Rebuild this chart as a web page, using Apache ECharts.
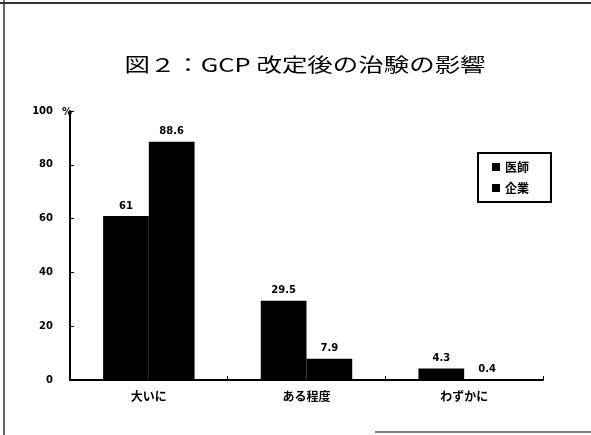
<!DOCTYPE html>
<html>
<head>
<meta charset="utf-8">
<script src="https://cdn.jsdelivr.net/npm/echarts@6/dist/echarts.min.js"></script>
<style>
  html, body { margin: 0; padding: 0; background: #fff; }
  #chart { width: 591px; height: 435px; }
</style>
</head>
<body>
<div id="chart"></div>
<script>
// Responses to the survey question, percent of respondents
const categories = ['大いに', 'ある程度', 'わずかに'];
const doctors = [61, 29.5, 4.3];      // 医師
const companies = [88.6, 7.9, 0.4];   // 企業
const seriesNames = ['医師', '企業'];
const yTicks = { min: 0, max: 100, interval: 20 };
const titleText = '図２：GCP 改定後の治験の影響';

const CJK = '"Noto Sans CJK JP", "Noto Sans", sans-serif';
const NUM = '"DejaVu Sans", sans-serif';

const chart = echarts.init(document.getElementById('chart'), null, { renderer: 'canvas' });

const labelStyle = {
  show: true,
  position: 'top',
  distance: 5,
  color: '#000',
  fontFamily: NUM,
  fontWeight: 'bold',
  fontSize: 10
};

chart.setOption({
  animation: false,
  backgroundColor: '#fff',
  legend: {
    orient: 'vertical',
    left: 478,
    top: 153,
    padding: [8, 22, 8, 14],
    itemGap: 9,
    itemWidth: 8,
    itemHeight: 8,
    icon: 'rect',
    borderColor: '#000',
    borderWidth: 2,
    textStyle: { fontFamily: CJK, fontWeight: 'bold', fontSize: 12, color: '#000' },
    data: seriesNames
  },
  grid: { left: 70, right: 48, top: 111, bottom: 55, containLabel: false },
  xAxis: {
    type: 'category',
    data: categories,
    axisLine: { lineStyle: { color: '#000', width: 2 } },
    axisTick: { show: true, inside: true, length: 4, lineStyle: { color: '#000', width: 1 } },
    axisLabel: { margin: 10, color: '#000', fontFamily: CJK, fontWeight: 'bold', fontSize: 12 }
  },
  yAxis: {
    type: 'value',
    min: yTicks.min,
    max: yTicks.max,
    interval: yTicks.interval,
    name: '%',
    nameLocation: 'end',
    nameGap: -6,
    nameTextStyle: { color: '#000', fontFamily: NUM, fontWeight: 'bold', fontSize: 10, padding: [0, 6, 0, 0] },
    splitLine: { show: false },
    axisLine: { show: true, lineStyle: { color: '#000', width: 2 } },
    axisTick: { show: true, inside: true, length: 4, lineStyle: { color: '#000', width: 1 } },
    axisLabel: { margin: 17, color: '#000', fontFamily: NUM, fontWeight: 'bold', fontSize: 10 }
  },
  series: [
    {
      name: seriesNames[0],
      type: 'bar',
      data: doctors,
      barGap: 0,
      barCategoryGap: '42%',
      itemStyle: { color: '#000' },
      label: labelStyle
    },
    {
      name: seriesNames[1],
      type: 'bar',
      data: companies,
      barGap: 0,
      barCategoryGap: '42%',
      itemStyle: { color: '#000' },
      label: labelStyle
    }
  ],
  graphic: [
    // heading, drawn slightly widened
    {
      type: 'text',
      x: 305,
      y: 65,
      scaleX: 1.34,
      style: {
        text: titleText,
        font: '19px ' + CJK,
        fill: '#000',
        textAlign: 'center',
        textVerticalAlign: 'middle'
      }
    },
    // outer frame of the figure
    { type: 'line', shape: { x1: 0, y1: 3, x2: 591, y2: 3 }, style: { stroke: '#333', lineWidth: 2 } },
    { type: 'line', shape: { x1: 4, y1: 0, x2: 4, y2: 435 }, style: { stroke: '#333', lineWidth: 1.5 } },
    { type: 'line', shape: { x1: 375, y1: 432, x2: 591, y2: 432 }, style: { stroke: '#555', lineWidth: 1.5 } }
  ]
});
</script>
</body>
</html>
